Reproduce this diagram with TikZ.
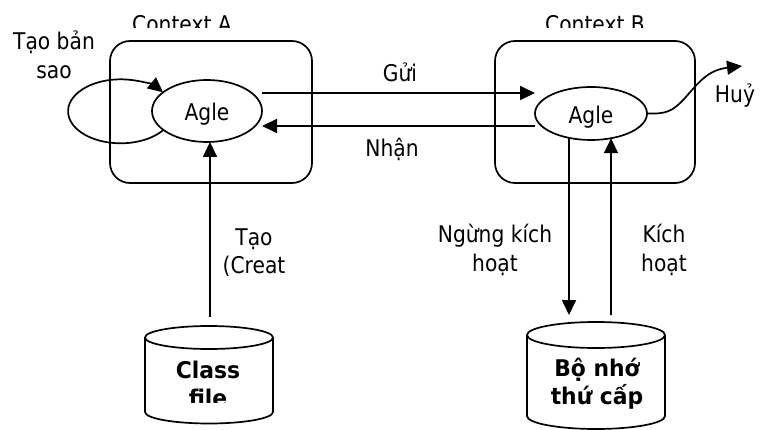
\documentclass[tikz,border=0pt]{standalone}
\usepackage{fontspec}
\setmainfont{DejaVu Sans}[FakeStretch=0.88]
\newfontfamily\storefont{DejaVu Sans}[FakeStretch=0.95]
\usetikzlibrary{arrows.meta,calc,shapes.geometric}
% two centred lines whose baseline is the first line's baseline
\newcommand\twoline[2]{\vtop{\baselineskip=28.8pt\halign{\hfil##\hfil\cr#1\cr#2\cr}}}

\begin{document}
\begin{tikzpicture}[x=1pt,y=-1pt,line width=1.7pt,
  txt/.style={font=\fontsize{23pt}{28.8pt}\selectfont,inner sep=0pt,outer sep=0pt},
  lbl/.style={txt,anchor=base},
  boldlbl/.style={lbl,font=\fontsize{23pt}{28.8pt}\storefont\bfseries},
  ctxbox/.style={draw,rounded corners=20pt,inner sep=0pt,outer sep=0pt},
  agle/.style={txt,draw,ellipse,text height=20pt,text depth=0pt},
  tip/.style={-{Triangle[length=15pt,width=14pt]}}]
\useasboundingbox (0,0) rectangle (762,430);

% contexts
\node[ctxbox,minimum width=202pt,minimum height=142pt] (ctxA) at (211,112) {};
\node[ctxbox,minimum width=200pt,minimum height=142pt] (ctxB) at (595,112) {};
\begin{scope}
  \clip (0,0) rectangle (762,28);
  \node[lbl] (ctxAname) at (182,32.5) {Context A};
  \node[lbl] (ctxBname) at (595,32.5) {Context B};
\end{scope}

% agents
\node[agle,minimum width=110pt,minimum height=62pt] (agleA) at (207,111) {Agle};
\node[agle,minimum width=112pt,minimum height=53pt] (agleB) at (591,113.5) {Agle};

% cloning loop
\draw[tip] (163,130.3) arc[start angle=36.4,end angle=323.6,x radius=52.6,y radius=32];
\node[lbl] (clone) at (54,50) {\twoline{Tạo bản}{sao}};

% send / receive
\draw[tip] ($(agleA.east)+(0,-18)$) -- ($(agleB.west)+(0,-20.5)$);
\draw[tip] ($(agleB.west)+(0,12.5)$) -- ($(agleA.east)+(0,15)$);
\node[lbl] (send) at (400,82) {Gửi};
\node[lbl] (recv) at (392,157) {Nhận};

% dispose
\coordinate (huyend) at (742,66);
\draw[tip] (agleB.east) .. controls (666,114) and (672,112) .. (685,98)
  .. controls (699,82) and (708,70) .. (huyend);
\node[lbl] (huy) at (735,103) {Huỷ};

% class file store
\coordinate (cfA) at (210,317);
\draw (145,337.5) -- (145,412) arc[start angle=180,end angle=0,x radius=64,y radius=11.5] -- (273,337.5);
\draw (209,337.5) ellipse[x radius=64,y radius=11.5];
\begin{scope}
  \clip (100,300) rectangle (320,402.5);
  \node[boldlbl] (classfile) at (208,378) {\twoline{Class}{file}};
\end{scope}
\draw[tip] (cfA) -- (cfA |- agleA.south);
\node[lbl] (create) at (254,245) {\twoline{Tạo}{(Creat}};

% secondary storage
\coordinate (dnB) at (569,315);
\coordinate (upB) at (611,315);
\draw (527,335) -- (527,416) arc[start angle=180,end angle=0,x radius=69,y radius=13] -- (665,335);
\draw (596,335) ellipse[x radius=69,y radius=13];
\node[boldlbl] (store) at (597,376) {\twoline{Bộ nhớ}{thứ cấp}};
\draw[tip] (agleB.-132) -- (dnB);
\draw[tip] (upB) -- (agleB.-51);
\node[lbl] (deact) at (495,243) {\twoline{Ngừng kích}{hoạt}};
\node[lbl] (act) at (664,243) {\twoline{Kích}{hoạt}};
\end{tikzpicture}
\end{document}
